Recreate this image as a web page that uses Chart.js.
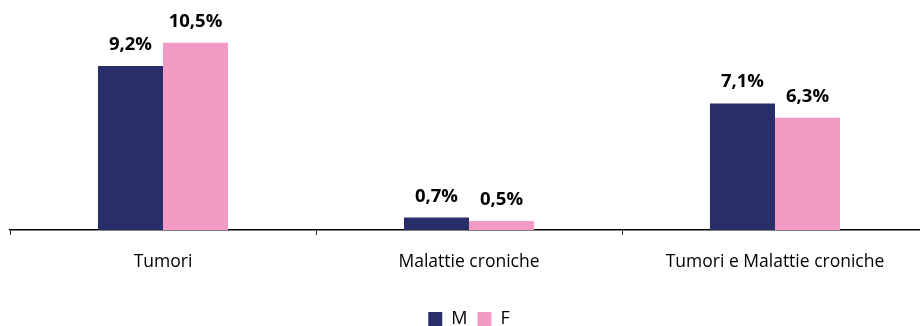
<!DOCTYPE html>
<html>
<head>
<meta charset="utf-8">
<script src="https://cdn.jsdelivr.net/npm/chart.js@4.4.1/dist/chart.umd.min.js"></script>
<style>
  html, body { margin: 0; padding: 0; background: #fff; overflow: hidden; }
  #wrap { width: 928px; height: 326px; }
</style>
</head>
<body>
<div id="wrap"><canvas id="chart"></canvas></div>
<script>
// Categories and series
const categories = ['Tumori', 'Malattie croniche', 'Tumori e Malattie croniche'];
const maleValues = [9.2, 0.7, 7.1];
const femaleValues = [10.5, 0.5, 6.3];
const seriesNames = ['M', 'F'];

const FONT = '"Open Sans", sans-serif';

// Value labels above each bar, e.g. "9,2%"
const valueLabels = {
    id: 'valueLabels',
    afterDatasetsDraw(chart) {
        const ctx = chart.ctx;
        ctx.save();
        ctx.font = 'bold 18.5px ' + FONT;
        ctx.fillStyle = '#000';
        ctx.textAlign = 'center';
        ctx.textBaseline = 'alphabetic';
        chart.data.datasets.forEach((ds, i) => {
            chart.getDatasetMeta(i).data.forEach((bar, j) => {
                const txt = ds.data[j].toFixed(1).replace('.', ',') + '%';
                ctx.fillText(txt, bar.x, bar.y - 16);
            });
        });
        ctx.restore();
    }
};

new Chart(document.getElementById('chart'), {
    type: 'bar',
    data: {
        labels: categories,
        datasets: [{
            label: seriesNames[0],
            data: maleValues,
            backgroundColor: '#272E68'
        }, {
            label: seriesNames[1],
            data: femaleValues,
            backgroundColor: '#F29BC4'
        }]
    },
    options: {
        responsive: true,
        maintainAspectRatio: false,
        animation: false,
        categoryPercentage: 0.425,
        barPercentage: 1,
        layout: { padding: { left: 10, right: 0, top: 16, bottom: -12 } },
        scales: {
            x: {
                grid: {
                    display: true,
                    drawOnChartArea: false,
                    drawTicks: true,
                    tickLength: 5,
                    color: '#333'
                },
                border: { display: true, color: '#000', width: 1.5 },
                ticks: {
                    color: '#000',
                    font: { family: FONT, size: 17.5 },
                    padding: 17
                },
                afterFit(scale) { scale.height = 70; }
            },
            y: {
                display: false,
                min: 0,
                max: 12
            }
        },
        plugins: {
            legend: {
                position: 'bottom',
                labels: {
                    boxWidth: 14,
                    boxHeight: 14,
                    padding: 10,
                    color: '#000',
                    font: { family: FONT, size: 18 }
                }
            },
            tooltip: { enabled: false }
        }
    },
    plugins: [valueLabels]
});
</script>
</body>
</html>
